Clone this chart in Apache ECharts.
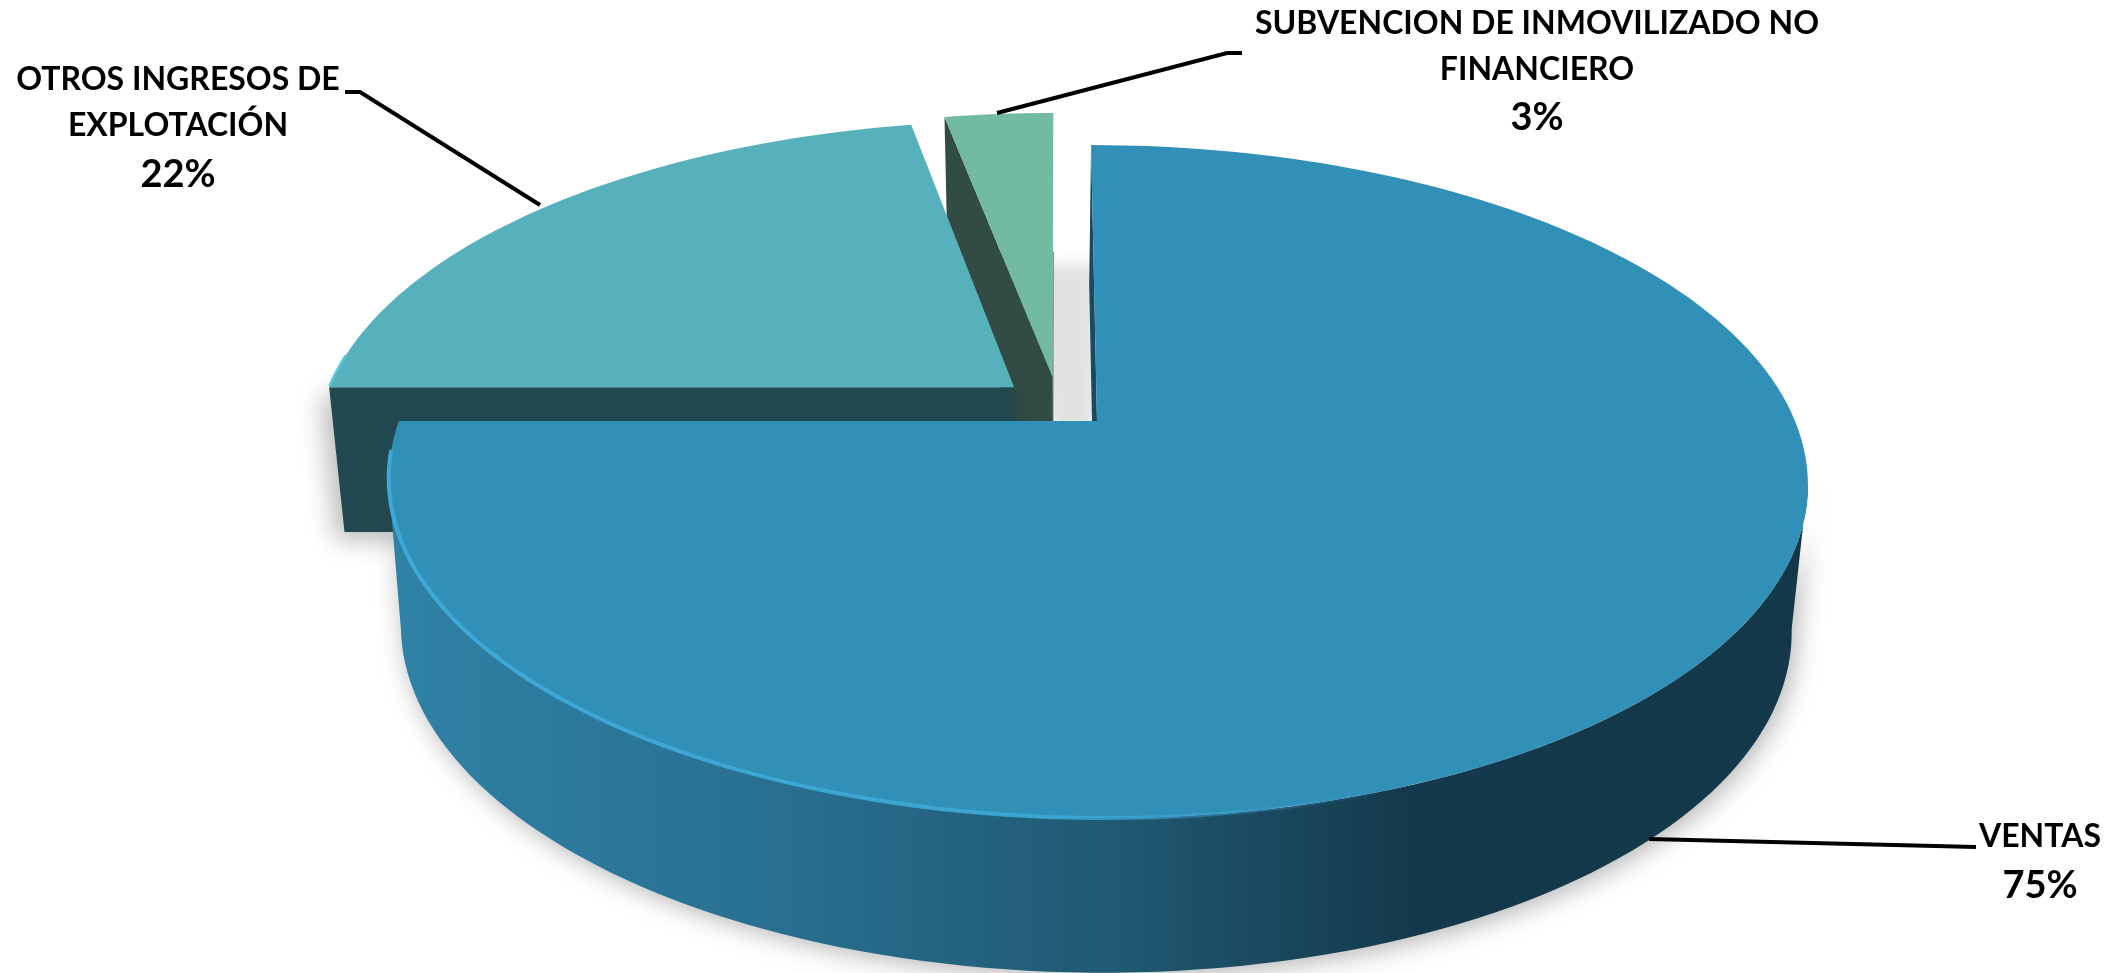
<!DOCTYPE html>
<html><head><meta charset="utf-8">
<style>html,body{margin:0;padding:0;background:#fff}#c{width:2128px;height:973px}</style>
<script src="https://cdn.jsdelivr.net/npm/echarts@6/dist/echarts.min.js"></script>
</head><body><div id="c"></div>
<script>
var categories = ['VENTAS', 'OTROS INGRESOS DE EXPLOTACIÓN', 'SUBVENCION DE INMOVILIZADO NO FINANCIERO'];
var values = [75, 22, 3];
var percentLabels = ['75%', '22%', '3%'];

var total = values.reduce(function (a, b) { return a + b; }, 0);
// perspective model of the tilted disc
var G = {x0: 1097, y0: 421, rx: 698, ry: 325.6, skew: -7, a: 0.18, baseY: 566.6, baseRy: 333, baseFx: 0.98};
var sliceLook = [
  {top: '#3190b8', cut: '#1a4a60', du: 0, dv: 0, baseShift: -2, z: 30},
  {top: '#57b1bd', cut: '#224850', du: -0.12, dv: 0.106, baseShift: 0, z: 20},
  {top: '#73baa5', cut: '#304c44', du: -0.064, dv: 0.14, baseShift: 0, z: 10}
];
var labelLook = [
  {lines: ['VENTAS'], cx: 2040, ys: [837], pctY: 886, leader: [[1649, 839], [1976, 847]]},
  {lines: ['OTROS INGRESOS DE', 'EXPLOTACIÓN'], cx: 178, ys: [79.5, 126], pctY: 175, leader: [[540, 205], [360, 92], [345, 92]]},
  {lines: ['SUBVENCION DE INMOVILIZADO NO', 'FINANCIERO'], cx: 1537, ys: [23.5, 70], pctY: 118, leader: [[997, 113], [1227, 53], [1242, 53]]}
];
var FONT = 'Lato';
var NAME_SIZE = 32, PCT_SIZE = 38;

function topPt(u, v) {
  var w = 1 + G.a * v;
  return [G.x0 + (G.rx * u + G.skew * v) / w, G.y0 - G.ry * v / w];
}
function basePt(u, v, shift) {
  var w = 1 + G.a * v;
  return [G.x0 + (shift || 0) + G.baseFx * (G.rx * u + G.skew * v) / w, G.baseY - G.baseRy * v / w];
}
function rim(fn, look, deg) {
  var t = deg * Math.PI / 180;
  return fn(look.du + Math.sin(t), look.dv + Math.cos(t), look.baseShift);
}
function arc(fn, look, d0, d1) {
  var out = [], n = Math.max(2, Math.ceil(Math.abs(d1 - d0) / 1.5));
  for (var i = 0; i <= n; i++) out.push(rim(fn, look, d0 + (d1 - d0) * i / n));
  return out;
}

function renderItem(params, api) {
  var i = params.dataIndex, look = sliceLook[i], lab = labelLook[i];
  var before = 0;
  for (var k = 0; k < i; k++) before += values[k];
  var d0 = before / total * 360, d1 = (before + api.value(0)) / total * 360;
  var apexT = topPt(look.du, look.dv), apexB = basePt(look.du, look.dv, look.baseShift);
  var kids = [];

  // soft ground shadow in the gap beside the small slice
  if (i === 2) {
    kids.push({type: 'polygon', z2: look.z - 5,
      shape: {points: [apexB].concat(arc(basePt, look, d0, d1))},
      style: {fill: '#999', shadowBlur: 14, shadowOffsetX: 42, shadowOffsetY: 12, shadowColor: 'rgba(0,0,0,0.115)'}});
  }
  // cut face at start angle
  kids.push({type: 'polygon', z2: look.z,
    shape: {points: [rim(topPt, look, d0), apexT, apexB, rim(basePt, look, d0)]},
    style: {fill: look.cut, shadowBlur: i === 1 ? 26 : 0, shadowOffsetX: i === 1 ? -8 : 0, shadowOffsetY: i === 1 ? 8 : 0,
      shadowColor: 'rgba(0,0,0,0.28)'}});

  // curved outer wall of the front-facing part
  var fr0 = Math.max(d0, 100.4), fr1 = Math.min(d1, 259.6);
  if (fr1 > fr0) {
    var wall = arc(topPt, look, fr0, fr1).concat(arc(basePt, look, fr1, fr0));
    kids.push({type: 'polygon', z2: look.z + 1, shape: {points: wall},
      style: {
        fill: new echarts.graphic.LinearGradient(0, 0, 1, 0, [
          {offset: 0, color: '#2f82a6'}, {offset: 0.28, color: '#286f90'},
          {offset: 0.52, color: '#1f5871'}, {offset: 0.72, color: '#15394c'}, {offset: 1, color: '#13384a'}
        ]),
        shadowBlur: 26, shadowOffsetX: 4, shadowOffsetY: 4, shadowColor: 'rgba(0,0,0,0.3)'
      }});
  }
  // top face
  kids.push({type: 'polygon', z2: look.z + 2,
    shape: {points: [apexT].concat(arc(topPt, look, d0, d1))},
    style: {fill: look.top}});

  // bright rims
  if (fr1 > fr0) {
    kids.push({type: 'polyline', z2: look.z + 3,
      shape: {points: arc(topPt, look, 130, d1 - 5)},
      style: {fill: null, lineWidth: 4,
        stroke: new echarts.graphic.LinearGradient(0, 0, 1, 0, [
          {offset: 0, color: 'rgba(62,168,214,1)'}, {offset: 0.5, color: 'rgba(62,168,214,0.9)'}, {offset: 0.75, color: 'rgba(62,168,214,0)'}, {offset: 1, color: 'rgba(62,168,214,0)'}
        ])}});
  }
  if (i === 1) {
    kids.push({type: 'polyline', z2: look.z + 3,
      shape: {points: arc(topPt, look, d0 + 0.2, d0 + 6)},
      style: {fill: null, lineWidth: 3, stroke: 'rgba(80,195,210,0.8)'}});
  }

  // leader and labels
  kids.push({type: 'polyline', z2: 60, shape: {points: lab.leader},
    style: {fill: null, stroke: '#000', lineWidth: 4}});
  lab.lines.forEach(function (t, j) {
    kids.push({type: 'text', z2: 61, style: {text: t, x: lab.cx, y: lab.ys[j], align: 'center', verticalAlign: 'middle',
      fontFamily: FONT, fontWeight: 'bold', fontSize: NAME_SIZE, fill: '#000'}});
  });
  kids.push({type: 'text', z2: 61, style: {text: percentLabels[i], x: lab.cx, y: lab.pctY, align: 'center', verticalAlign: 'middle',
    fontFamily: FONT, fontWeight: 'bold', fontSize: PCT_SIZE, fill: '#000'}});
  return {type: 'group', children: kids};
}

var chart = echarts.init(document.getElementById('c'), null, {renderer: 'canvas'});
chart.setOption({
  backgroundColor: '#fff',
  animation: false,
  series: [{
    type: 'custom',
    coordinateSystem: 'none',
    renderItem: renderItem,
    data: categories.map(function (n, i) { return {name: n, value: [values[i]]}; })
  }]
});
</script></body></html>
